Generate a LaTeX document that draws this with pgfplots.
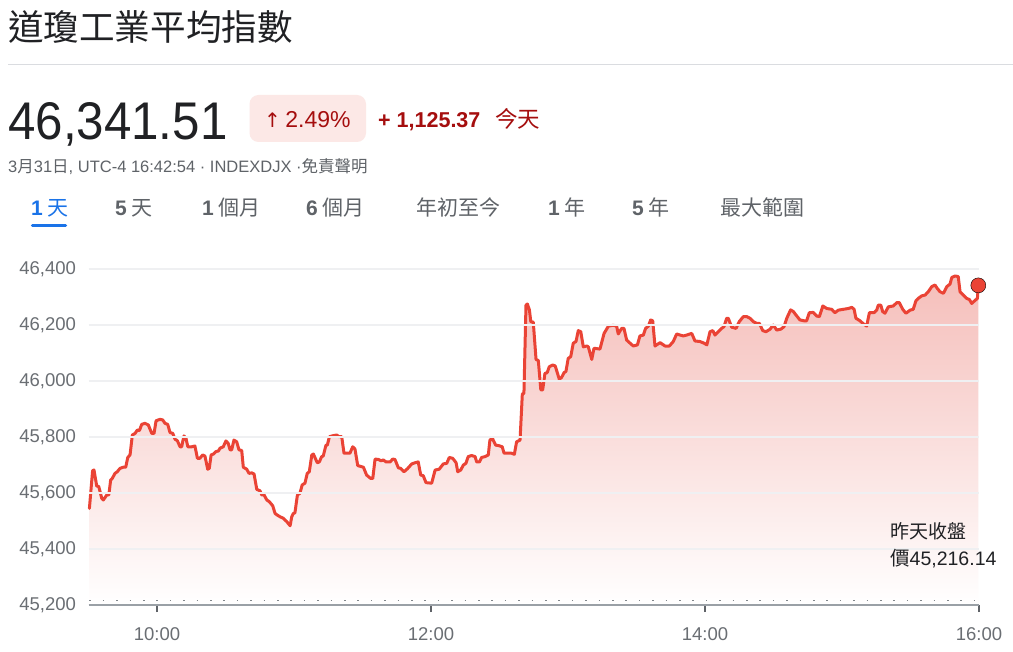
\documentclass[border=0pt]{standalone}
\usepackage{fontspec}
\setmainfont{Liberation Sans}
\newfontfamily\cjk{Noto Sans CJK TC}
\newfontfamily\dejavu{DejaVu Sans}
\usepackage{graphicx}
\usepackage{pgfplots}
\pgfplotsset{compat=1.18}
\usepackage{pgfplotstable}
\definecolor{titlecol}{HTML}{202124}
\definecolor{subgray}{HTML}{5F6368}
\definecolor{labelgray}{HTML}{6A6E73}
\definecolor{linered}{HTML}{EA4335}
\definecolor{darkred}{HTML}{A50E0E}
\definecolor{badgebg}{HTML}{FCE8E6}
\definecolor{tabblue}{HTML}{1A73E8}
\definecolor{gridgray}{HTML}{EFF0F2}
\definecolor{sepgray}{HTML}{DADCE0}
\definecolor{axisgray}{HTML}{9AA0A6}
\definecolor{tickgray}{HTML}{5F6368}
\definecolor{dotgray}{HTML}{80868B}
\definecolor{fillpink}{RGB}{245,190,186}

% t = minutes after 09:30, v = index value
\pgfplotstableread{
t v
0.4 45545
1.8 45680
2.4 45682
3.6 45625
4.5 45623
5.8 45581
6.5 45575
8.0 45593
8.9 45593
9.7 45646
10.4 45652
11.6 45670
12.6 45676
13.8 45688
15.2 45692
16.3 45692
17.2 45727
18.2 45736
19.2 45807
20.4 45813
21.4 45825
22.3 45823
23.3 45845
24.7 45849
26.2 45843
27.7 45813
28.7 45813
29.6 45858
31.3 45863
32.5 45861
33.5 45849
34.7 45845
35.7 45816
36.9 45813
37.9 45792
38.9 45787
40.1 45765
40.8 45765
41.8 45804
42.7 45795
43.5 45765
45.2 45765
46.6 45768
47.7 45724
48.8 45724
50.0 45736
51.0 45732
52.2 45685
52.9 45688
53.7 45736
54.7 45739
55.8 45748
56.9 45750
57.6 45760
59.0 45765
60.2 45786
61.2 45777
62.0 45754
62.7 45754
63.7 45789
64.9 45783
65.9 45754
67.1 45752
67.8 45692
69.3 45685
70.3 45670
71.5 45672
72.5 45668
73.7 45613
75.1 45608
75.9 45593
76.9 45593
78.1 45575
79.2 45569
80.7 45554
81.7 45527
82.7 45521
83.9 45515
85.3 45510
86.8 45498
88.3 45483
89.0 45515
89.7 45527
90.4 45529
91.5 45593
92.6 45599
93.6 45629
94.8 45635
95.8 45670
96.7 45676
97.8 45736
98.5 45739
100.2 45708
101.1 45711
102.1 45730
102.8 45732
104.0 45771
104.6 45771
105.5 45801
107.2 45805
108.7 45807
109.8 45801
110.9 45801
111.9 45742
114.5 45742
115.7 45765
116.7 45757
117.9 45698
120.4 45692
121.8 45664
123.6 45652
124.5 45652
125.5 45721
126.9 45720
128.1 45715
129.1 45718
130.3 45711
132.1 45711
133.2 45721
134.2 45720
135.7 45690
136.7 45688
138.2 45676
139.6 45686
141.6 45704
143.0 45708
144.4 45711
145.5 45664
146.6 45662
147.8 45637
150.3 45635
151.8 45682
153.6 45685
155.4 45704
156.9 45706
158.0 45727
159.5 45724
161.0 45708
161.7 45676
163.0 45682
164.2 45700
165.3 45706
166.3 45730
167.8 45734
169.3 45730
170.0 45711
171.2 45711
172.2 45727
173.7 45730
175.1 45736
175.8 45789
176.9 45795
178.3 45771
179.8 45769
181.2 45765
182.0 45742
183.9 45742
185.3 45742
186.5 45738
187.5 45783
189.0 45789
190.0 45954
190.7 45956
191.6 46271
192.2 46275
193.1 46254
193.7 46212
194.8 46210
196.0 46077
197.0 46073
198.1 45968
198.9 45968
199.9 46027
200.9 46030
201.8 46051
203.3 46057
204.4 46054
206.2 46006
207.2 46013
208.3 46030
209.1 46034
210.1 46081
211.2 46087
212.3 46135
213.5 46141
214.5 46180
215.6 46176
216.7 46122
218.2 46125
218.9 46122
220.4 46077
221.4 46117
224.0 46114
225.8 46170
227.7 46196
229.8 46199
231.3 46196
232.0 46168
233.5 46188
234.5 46188
235.7 46146
237.2 46135
238.6 46125
240.4 46129
241.5 46161
243.0 46164
244.0 46188
245.2 46196
246.2 46218
247.1 46215
248.1 46125
250.3 46137
252.5 46125
254.4 46125
256.1 46141
257.6 46168
259.1 46164
260.5 46161
262.0 46164
264.2 46170
265.6 46143
267.8 46141
269.6 46135
270.8 46129
272.2 46176
273.4 46180
274.4 46164
275.8 46176
277.3 46188
278.3 46194
279.5 46224
280.2 46224
281.7 46192
283.6 46188
285.0 46212
286.8 46230
288.3 46230
289.7 46224
291.2 46212
292.6 46206
293.8 46206
295.3 46180
296.7 46176
298.5 46185
299.9 46200
301.4 46182
303.2 46185
304.6 46194
305.8 46224
307.5 46254
308.7 46248
310.2 46232
311.6 46218
313.4 46215
314.5 46215
315.7 46244
317.4 46245
318.9 46232
320.1 46230
321.6 46268
323.3 46259
325.5 46256
326.9 46244
328.4 46253
330.6 46256
332.8 46259
334.3 46263
335.3 46256
336.1 46224
337.9 46215
339.1 46206
340.8 46196
342.0 46244
344.0 46244
345.2 46253
345.9 46271
347.0 46271
347.8 46248
348.8 46242
350.3 46265
352.5 46268
354.0 46280
355.1 46280
356.6 46256
358.0 46242
359.8 46253
361.2 46256
362.4 46287
363.4 46295
364.9 46304
366.4 46307
367.8 46319
369.3 46337
370.7 46343
371.7 46331
372.9 46319
374.4 46313
375.9 46337
377.3 46346
378.1 46370
379.5 46375
380.9 46373
381.7 46319
383.1 46307
384.6 46295
385.8 46291
386.8 46277
388.3 46288
389.3 46295
389.7 46341.51
}\dow

\begin{document}
\begin{tikzpicture}[x=1pt,y=1pt]
\path[use as bounding box, fill=white] (0,0) rectangle (1013,-652);

% header
\node[anchor=base west, inner sep=0, text=titlecol, font=\cjk\fontsize{35.6}{40}\selectfont] at (8,-41) {道瓊工業平均指數};
\draw[sepgray, line width=1pt] (8,-64.5) -- (1013,-64.5);

\node[anchor=base west, inner sep=0, text=titlecol] at (8,-140) {\scalebox{0.93}[1]{\fontsize{53}{60}\selectfont 46,341.51}};

\fill[badgebg, rounded corners=9pt] (249.5,-95) rectangle (366,-142);
\node[anchor=base west, inner sep=0, text=darkred] at (264,-127.7) {{\dejavu\fontsize{20}{24}\selectfont ↑}\hspace{4.5pt}{\fontsize{23}{26}\selectfont 2.49\%}};
\node[anchor=base west, inner sep=0, text=darkred, font=\bfseries\fontsize{21.5}{26}\selectfont] at (378,-127.7) {+ 1,125.37};
\node[anchor=base west, inner sep=0, text=darkred, font=\cjk\fontsize{22.5}{26}\selectfont] at (495,-127.7) {今天};

\node[anchor=base west, inner sep=0, text=subgray, font=\fontsize{16.5}{20}\selectfont] at (8,-172.3) {3{\cjk 月}31{\cjk 日}, UTC-4 16:42:54 · INDEXDJX ·{\cjk 免責聲明}};

% tabs
\begin{scope}[every node/.style={anchor=base west, inner sep=0, font=\fontsize{21}{24}\selectfont}]
\node[text=tabblue] at (31,-216) {\textbf{1}\hspace{5pt}{\cjk 天}};
\node[text=subgray] at (115,-216) {\textbf{5}\hspace{5pt}{\cjk 天}};
\node[text=subgray] at (202,-216) {\textbf{1}\hspace{5pt}{\cjk 個月}};
\node[text=subgray] at (306,-216) {\textbf{6}\hspace{5pt}{\cjk 個月}};
\node[text=subgray] at (416,-216) {{\cjk 年初至今}};
\node[text=subgray] at (548,-216) {\textbf{1}\hspace{5pt}{\cjk 年}};
\node[text=subgray] at (632,-216) {\textbf{5}\hspace{5pt}{\cjk 年}};
\node[text=subgray] at (720,-216) {{\cjk 最大範圍}};
\end{scope}
\draw[tabblue, line width=3.5pt, line cap=round] (32.5,-225.5) -- (65.5,-225.5);

\begin{axis}[
  at={(88.5pt,-605pt)}, anchor=south west,
  scale only axis, width=890.5pt, height=336pt,
  xmin=0, xmax=390, ymin=45200, ymax=46400,
  axis x line*=bottom, axis y line*=left,
  x axis line style={draw=axisgray, line width=1.6pt},
  y axis line style={draw=none},
  xtick={30,150,270,390}, xticklabels={10:00,12:00,14:00,16:00},
  ytick={45200,45400,45600,45800,46000,46200,46400},
  scaled y ticks=false,
  yticklabel style={/pgf/number format/fixed, /pgf/number format/precision=0, /pgf/number format/1000 sep={,}, xshift=-2pt},
  xticklabel style={yshift=-12pt},
  ymajorgrids, grid style={draw=gridgray, line width=1.2pt},
  xtick style={draw=tickgray, line width=2pt},
  ytick style={draw=none},
  tick align=outside, major tick length=7pt,
  ticklabel style={font=\fontsize{18.5}{21}\selectfont, text=labelgray},
  /pgf/number format/1000 sep={,},
  /pgf/number format/assume math mode=true,
  axis on top, clip=false,
]
\addplot[draw=none, top color=fillpink, bottom color=white] table[x=t,y=v]{\dow} -- (axis cs:389.7,45200) -- (axis cs:0.4,45200) -- cycle;
\addplot[dotgray, line width=1.5pt, dash pattern=on 1.5pt off 11.9pt] coordinates {(0.4,45216.14) (390,45216.14)};
\addplot[linered, line width=3pt, line join=round, line cap=round] table[x=t,y=v]{\dow};
\addplot[only marks, mark=*, mark size=7.5pt, mark options={fill=linered, draw=none}] coordinates {(389.7,46341.51)};
\end{axis}

\node[anchor=base west, inner sep=0, text=titlecol, font=\cjk\fontsize{19}{22}\selectfont] at (890,-538) {昨天收盤};
\node[anchor=base west, inner sep=0, text=titlecol, font=\fontsize{19.5}{22}\selectfont] at (890,-565) {{\cjk 價}45,216.14};
\end{tikzpicture}
\end{document}
